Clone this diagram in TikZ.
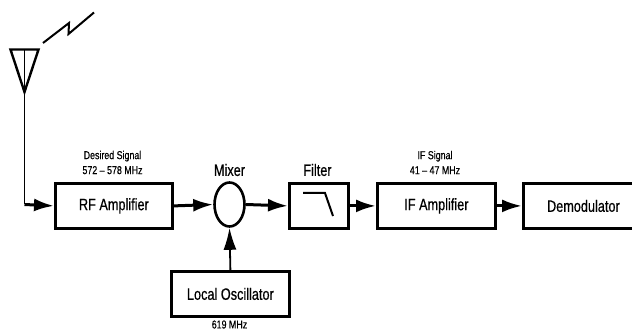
\documentclass[tikz,border=0pt]{standalone}
\usepackage{fontspec}
\setmainfont[FakeStretch=0.77,FakeBold=0.5]{Liberation Sans}
\usetikzlibrary{arrows.meta,shapes.geometric,positioning}
\tikzset{
  x=1pt,y=-1pt,
  blk/.style={draw=black,line width=2.8pt,rectangle,inner sep=0pt,anchor=north west,font=\fontsize{16.5}{18}\selectfont},
  conn/.style={draw=black,line width=3pt,-{Latex[length=20pt,width=13pt,inset=0pt]}},
  thin conn/.style={draw=black,line width=1.8pt,-{Latex[length=22pt,width=13pt,inset=0pt]}},
  big/.style={font=\fontsize{16.5}{18}\selectfont,inner sep=0pt},
  small/.style={font=\fontsize{11.5}{15}\selectfont,align=center,inner sep=0pt},
}
\begin{document}
\begin{tikzpicture}
\useasboundingbox (0,0) rectangle (632,331);
\node[blk,minimum width=117pt,minimum height=45pt] (rf) at (54,182) {RF Amplifier};
\node[draw=black,line width=2.6pt,ellipse,minimum width=30pt,minimum height=44pt,inner sep=0pt] (mix) at (229.5,204.5) {};
\node[blk,minimum width=59pt,minimum height=45pt] (filt) at (288,182) {};
\node[blk,minimum width=118pt,minimum height=45pt] (if) at (376,182) {IF Amplifier};
\node[blk,minimum width=120pt,minimum height=45pt] (dem) at (522,182) {Demodulator};
\node[blk,minimum width=118pt,minimum height=45pt] (lo) at (170,270) {Local Oscillator};

\node[big] (mixl) at (229.5,170) {Mixer};
\node[big] (filtl) at (317.5,170) {Filter};
\node[small] (ds) at (112.5,162.5) {Desired Signal\\572 -- 578 MHz};
\node[small] (is) at (435,162.5) {IF Signal\\41 -- 47 MHz};
\node[small] (lof) at (229.5,324.5) {619 MHz};

% antenna
\coordinate (a1) at (10.5,49.5);
\coordinate (a2) at (38.5,49.5);
\coordinate (a3) at (24.5,92);
\coordinate (atop) at (24.5,49.5);
\coordinate (acorner) at (24.5,204.5);
\draw[line width=2.4pt,line join=miter] (a1) -- (a2) -- (a3) -- cycle;
\draw[line width=1.4pt] (atop) -- (a3);
\draw[line width=1.8pt] (a3) -- (acorner);
% lightning
\coordinate (l1) at (43,43);
\coordinate (l2) at (69,23);
\coordinate (l3) at (68.5,34);
\coordinate (l4) at (94,12.5);
\draw[line width=2pt,line join=miter] (l1) -- (l2) -- (l3) -- (l4);
% filter symbol
\coordinate (f1) at (303,193);
\coordinate (f2) at (325,193);
\coordinate (f3) at (333,216);
\draw[line width=2pt] (f1) -- (f2) -- (f3);
% connectors
\draw[conn] (acorner) -- (rf.west);
\draw[conn] (rf.east) -- (mix.west);
\draw[conn] (mix.east) -- (filt.west);
\draw[conn] (filt.east) -- (if.west);
\draw[conn] (if.east) -- (dem.west);
\draw[thin conn] (lo.north) -- (mix.south);
\end{tikzpicture}
\end{document}
